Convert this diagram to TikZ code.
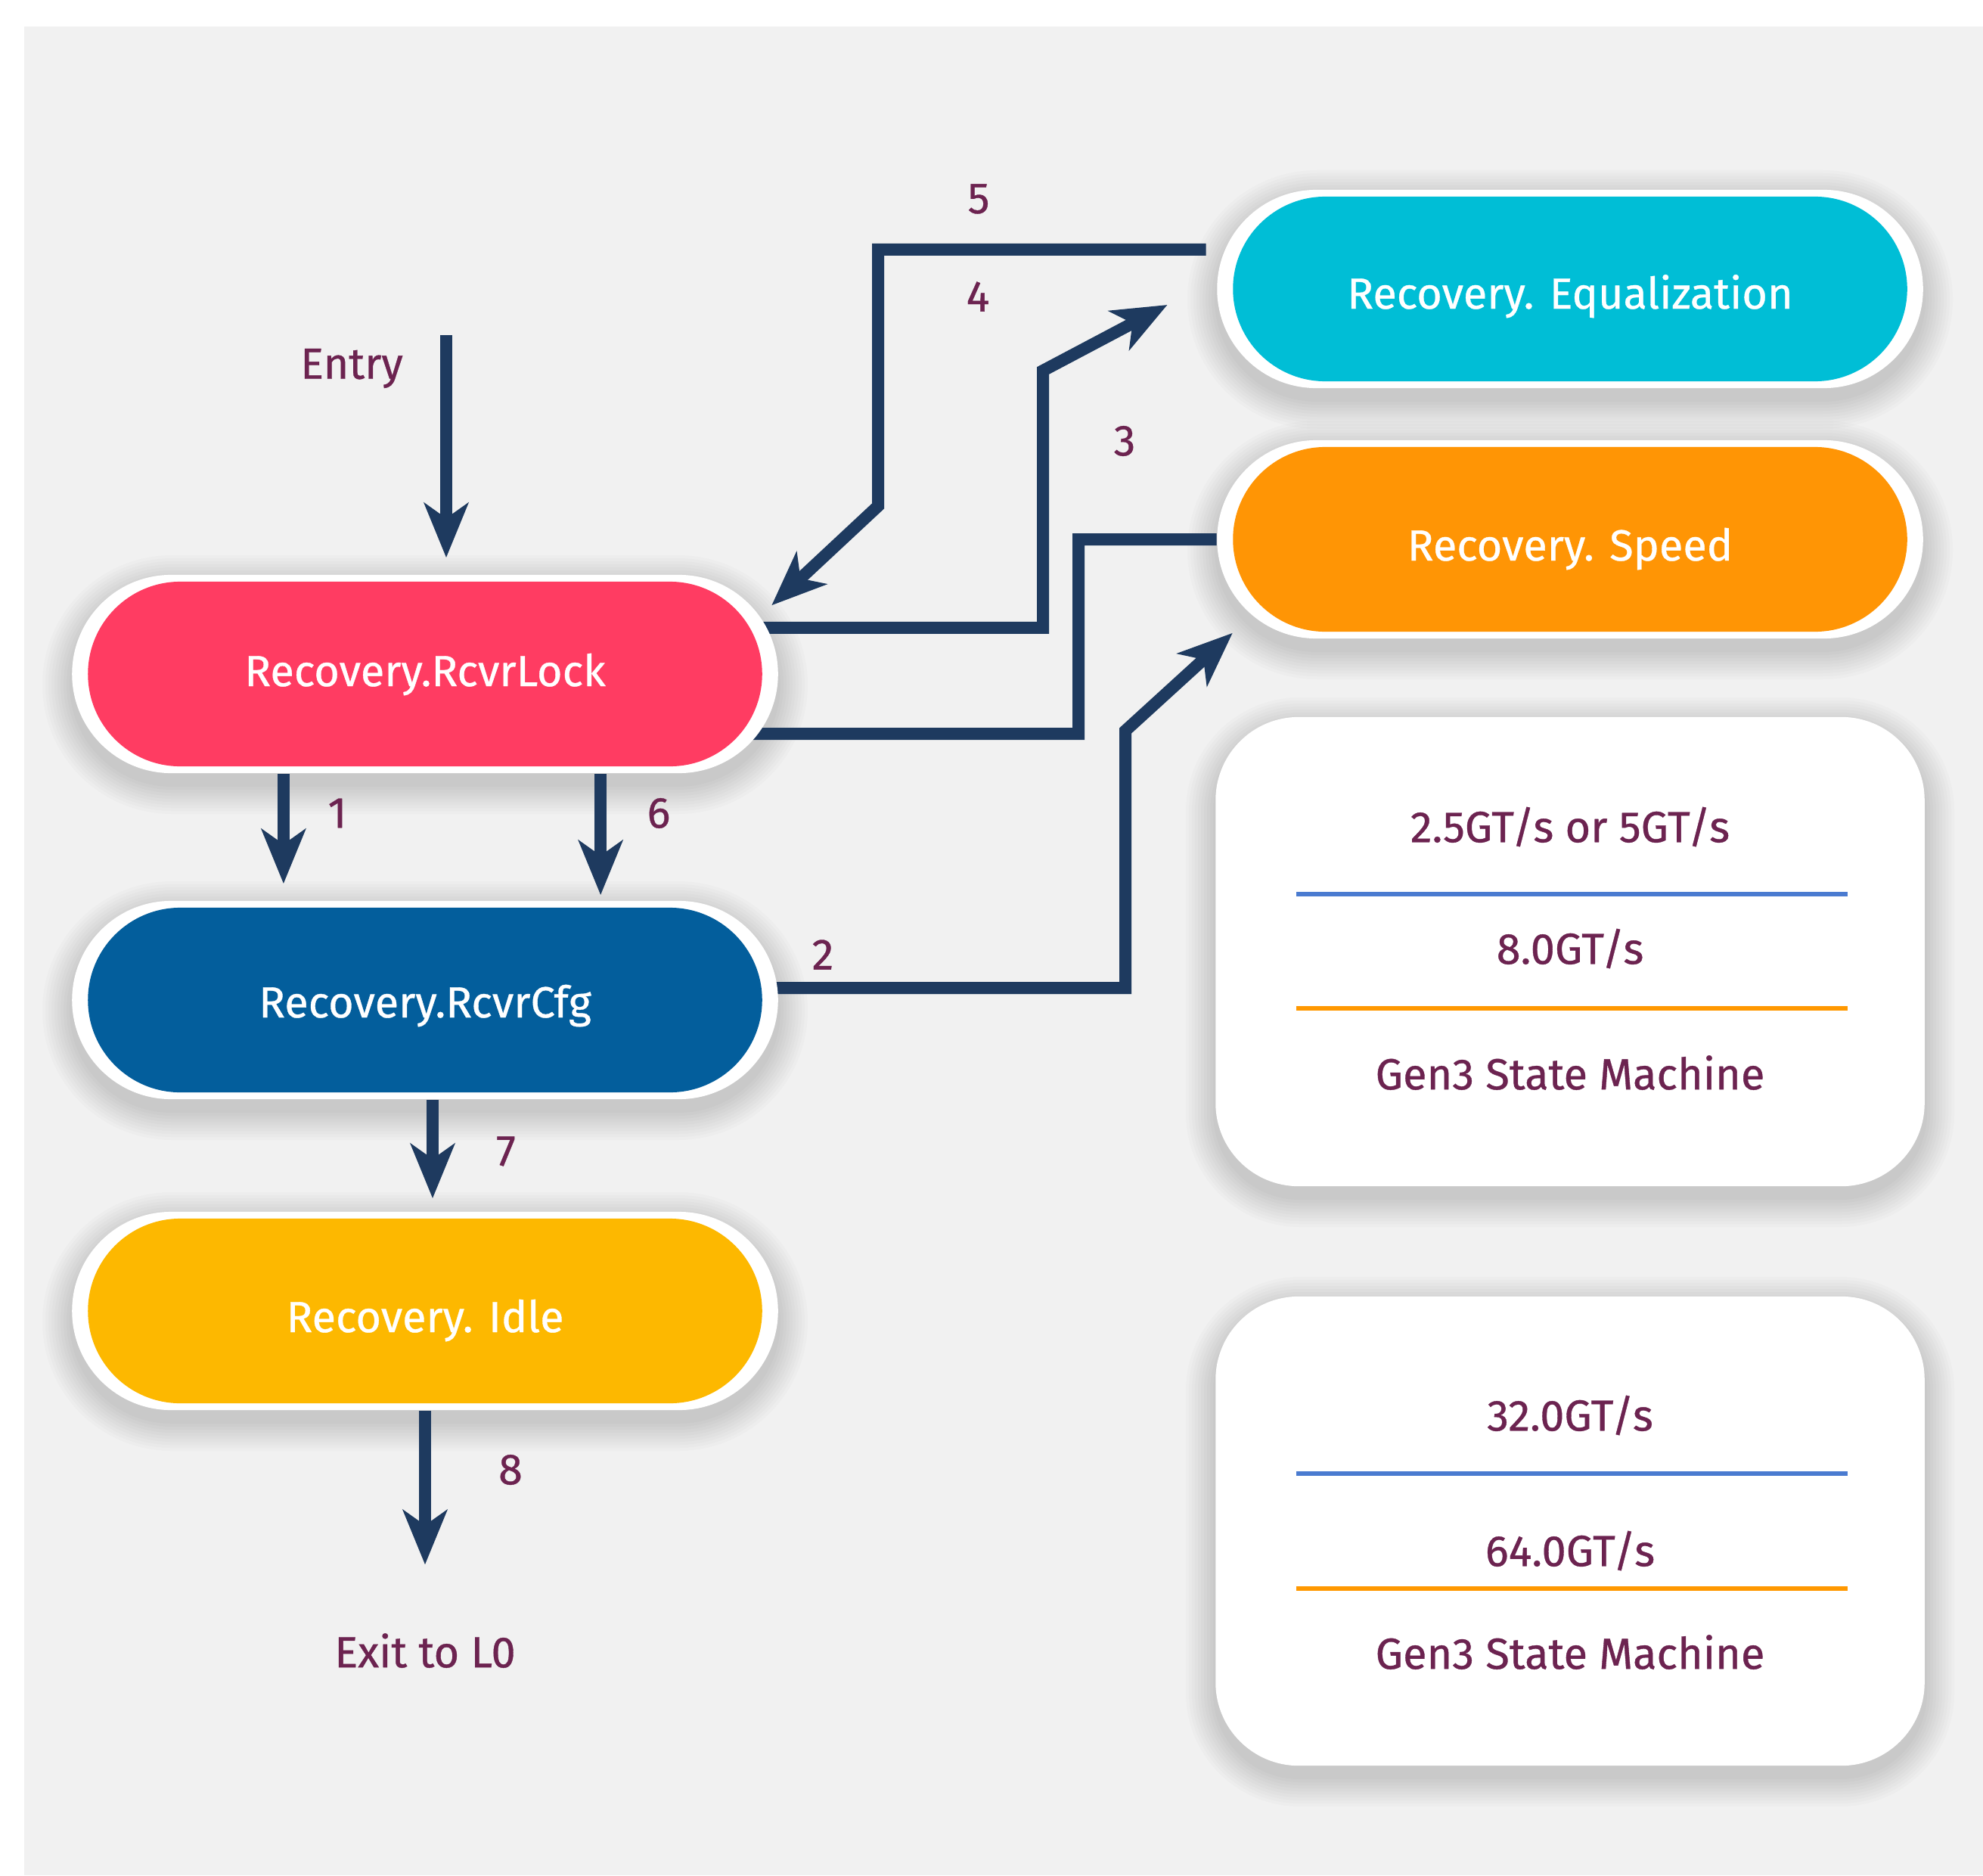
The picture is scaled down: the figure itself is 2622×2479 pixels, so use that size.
\documentclass[tikz,border=0pt]{standalone}
\usepackage{fontspec}
\setmainfont{Fira Sans}[FakeBold=0.6]
\usetikzlibrary{shapes.misc,arrows.meta,calc}
\definecolor{bggrey}{HTML}{F1F1F1}
\definecolor{navy}{HTML}{1E3A5F}
\definecolor{txtpurple}{HTML}{6C2350}
\definecolor{cpink}{HTML}{FF3C62}
\definecolor{cblue}{HTML}{035E9C}
\definecolor{cyellow}{HTML}{FDB800}
\definecolor{ccyan}{HTML}{00BED6}
\definecolor{corange}{HTML}{FF9505}
\definecolor{lblue}{HTML}{4A7BD0}
\definecolor{lorange}{HTML}{FF9800}
\pgfdeclarelayer{bglayer}
\pgfdeclarelayer{shadowlayer}
\pgfdeclarelayer{edgelayer}
\pgfsetlayers{bglayer,shadowlayer,edgelayer,main}
% soft shadow: cx, cy, half width, half height, corner radius (all in px)
\newcommand\mysoftshadow[5]{%
  \foreach \k in {1,...,10}{%
    \pgfmathsetmacro\rr{(#5+4*\k)*0.01}%
    \fill[black, opacity=0.014, rounded corners=\rr cm]
      ({#1-#3-4*\k},{#2-#4-4*\k+14}) rectangle ({#1+#3+4*\k},{#2+#4+4*\k+14});
  }%
}
% text lowered by #1 with zero height/depth, so the node centre sits on the baseline
\newcommand\ptxt[2]{\raisebox{#1}[0pt][0pt]{#2}}
\begin{document}
\begin{tikzpicture}[x=0.01cm,y=-0.01cm,
  every node/.style={font=\fontsize{16.4}{19}\selectfont},
  pillbg/.style={rounded rectangle, fill=white, minimum width=9.33cm, minimum height=2.62cm, inner sep=0pt},
  pill/.style={rounded rectangle, minimum width=8.91cm, minimum height=2.44cm, inner sep=0pt, text=white},
  card/.style={rectangle, rounded corners=1.1cm, fill=white, minimum width=9.37cm, minimum height=6.2cm, inner sep=0pt},
  lbl/.style={text=txtpurple, inner sep=0pt},
  conn/.style={draw=navy, line width=0.16cm},
  arr/.style={conn, -{Stealth[length=0.72cm,width=0.58cm,inset=0.2cm]}},
  sepline/.style={line width=0.06cm}
]
\useasboundingbox (0,0) rectangle (2622,2479);
\begin{pgfonlayer}{bglayer}
\fill[white] (0,0) rectangle (2622,2479);
\fill[bggrey] (32,35) rectangle (2622,2479);
\end{pgfonlayer}

\begin{pgfonlayer}{shadowlayer}
\mysoftshadow{562}{891}{466}{131}{131}
\mysoftshadow{562}{1322}{466}{131}{131}
\mysoftshadow{562}{1733}{466}{131}{131}
\mysoftshadow{2076}{382}{466}{131}{131}
\mysoftshadow{2076}{713}{466}{131}{131}
\mysoftshadow{2076}{1258}{468}{310}{110}
\mysoftshadow{2076}{2024}{468}{310}{110}
\end{pgfonlayer}

% state pills
\node[pillbg] (lockbg) at (562,891) {};
\node[pill, fill=cpink] (lock) at (562,891) {\ptxt{-0.16cm}{Recovery.RcvrLock}};
\node[pillbg] (cfgbg) at (562,1322) {};
\node[pill, fill=cblue] (cfg) at (562,1322) {\ptxt{-0.23cm}{Recovery.RcvrCfg}};
\node[pillbg] (idlebg) at (562,1733) {};
\node[pill, fill=cyellow] (idle) at (562,1733) {\ptxt{-0.28cm}{Recovery. Idle}};
\node[pillbg] (eqbg) at (2076,382) {};
\node[pill, fill=ccyan] (eq) at (2076,382) {\ptxt{-0.26cm}{Recovery. Equalization}};
\node[pillbg] (speedbg) at (2076,713) {};
\node[pill, fill=corange] (speed) at (2076,713) {\ptxt{-0.28cm}{Recovery. Speed}};

% cards
\node[card] (card1) at (2076,1258) {};
\node[lbl] (c1a) at (2076,1093) {2.5GT/s or 5GT/s};
\node[lbl] (c1b) at (2076,1254) {8.0GT/s};
\node[lbl] (c1c) at (2076,1418) {Gen3 State Machine};
\draw[sepline, lblue] (1714,1182) -- (2443,1182);
\draw[sepline, lorange] (1714,1333) -- (2443,1333);

\node[card] (card2) at (2076,2024) {};
\node[lbl] (c2a) at (2076,1871) {32.0GT/s};
\node[lbl] (c2b) at (2076,2050) {64.0GT/s};
\node[lbl] (c2c) at (2076,2184) {Gen3 State Machine};
\draw[sepline, lblue] (1714,1948) -- (2443,1948);
\draw[sepline, lorange] (1714,2100) -- (2443,2100);

% labels
\node[lbl] (entry) at (465,487) {Entry};
\coordinate (entrytop) at (590,443);
\node[lbl] (exit) at (562,2182) {Exit to L0};
\node[lbl] (n1) at (446,1075) {1};
\node[lbl] (n2) at (1088,1262) {2};
\node[lbl] (n3) at (1487,583) {3};
\node[lbl] (n4) at (1293,392) {4};
\node[lbl] (n5) at (1294,263) {5};
\node[lbl] (n6) at (871,1075) {6};
\node[lbl] (n7) at (669,1522) {7};
\node[lbl] (n8) at (675,1943) {8};

\begin{pgfonlayer}{edgelayer}
\draw[arr, shorten >=0.22cm] (entrytop) -- (entrytop |- lockbg.north);
\draw[arr, shorten >=0.22cm] ([xshift=-1.87cm]lockbg.south) -- ([xshift=-1.87cm]cfgbg.north);
\draw[arr, shorten >=0.07cm] ([xshift=2.32cm]lockbg.south) -- ([xshift=2.32cm]cfgbg.north);
\draw[arr, shorten >=0.17cm] ([xshift=0.1cm]cfgbg.south) -- ([xshift=0.1cm]idlebg.north);
\draw[arr, shorten >=0.9cm] (idlebg.south) -- (exit.north);
% 2
\draw[arr] ([xshift=-0.3cm,yshift=0.16cm]cfg.east) -| (1488,966) -- ([xshift=-4.46cm,yshift=0.08cm]speedbg.south);
% 3
\draw[arr] ([xshift=-0.3cm,yshift=0.61cm]lock.east) -| (1379,490) -- ([xshift=-0.65cm,yshift=-0.21cm]eqbg.west);
% 4/5
\draw[arr] ([xshift=-0.14cm,yshift=0.52cm]eqbg.west) -| (1161,669) -- ([xshift=4.58cm,yshift=-0.41cm]lockbg.north);
% speed -> lock
\draw[conn] (speedbg.west) -| (1426,970) -- ([xshift=-0.4cm,yshift=-0.79cm]lock.east);
\end{pgfonlayer}
\end{tikzpicture}
\end{document}
